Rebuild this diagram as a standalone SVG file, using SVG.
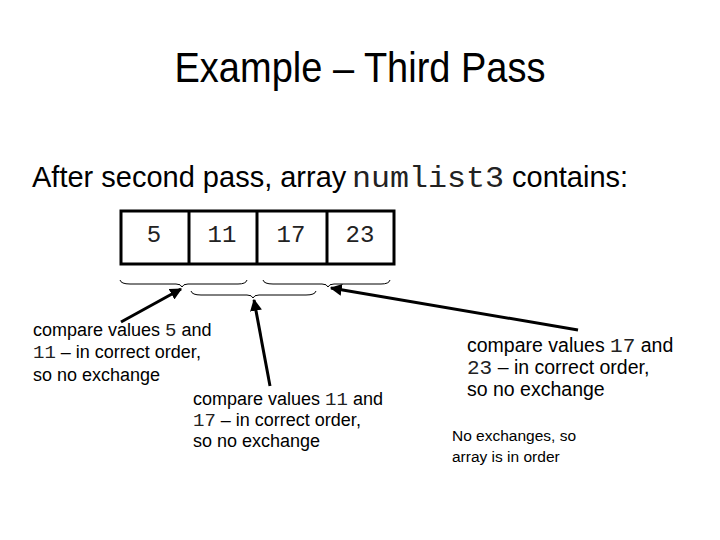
<svg xmlns="http://www.w3.org/2000/svg" width="720" height="540" viewBox="0 0 720 540">
<style>
.sans{font-family:"Liberation Sans",Arial,sans-serif;fill:#000}
.mono{font-family:"Liberation Mono","Courier New",monospace;fill:#222}
.brace{fill:none;stroke:#000;stroke-width:1}
.arr{fill:none;stroke:#000;stroke-width:3;marker-end:url(#ah)}
</style>
<defs>
<marker id="ah" viewBox="0 0 10 10" refX="9" refY="5" markerWidth="4" markerHeight="4" orient="auto" markerUnits="strokeWidth">
<path d="M0,0 L10,5 L0,10 Z" fill="#000"/>
</marker>
</defs>
<rect width="720" height="540" fill="#fff"/>
<g id="title"><text class="sans" x="360" y="82" font-size="42" text-anchor="middle" textLength="371" lengthAdjust="spacingAndGlyphs">Example – Third Pass</text></g>
<g id="subtitle"><text class="sans" x="32" y="187" font-size="29"><tspan>After second pass, array </tspan><tspan class="mono" x="352" font-size="29" textLength="152" lengthAdjust="spacingAndGlyphs">numlist3</tspan><tspan x="512">contains:</tspan></text></g>
<g id="array">
<rect x="121" y="211" width="273" height="53" fill="#fff" stroke="#000" stroke-width="3"/>
<line x1="189" y1="211" x2="189" y2="264" stroke="#000" stroke-width="3"/>
<line x1="257" y1="211" x2="257" y2="264" stroke="#000" stroke-width="3"/>
<line x1="327" y1="211" x2="327" y2="264" stroke="#000" stroke-width="3"/>
<text class="mono" font-size="24" text-anchor="middle" y="242"><tspan x="154">5</tspan><tspan x="222">11</tspan><tspan x="291">17</tspan><tspan x="360">23</tspan></text>
</g>
<g id="braces">
<path class="brace" d="M120,280 Q121,284 130,284 L176,284 Q181,284 182,287 Q183,284 188,284 L238,284 Q246,284 247,280"/>
<path class="brace" d="M191,291 Q192,295 201,295 L247,295 Q252,295 253,298 Q254,295 259,295 L306,295 Q315,295 316,291"/>
<path class="brace" d="M263,280 Q264,284 273,284 L322,284 Q327,284 328,287 Q329,284 334,284 L381,284 Q389,284 390,280"/>
</g>
<g id="connectors">
<line class="arr" x1="121" y1="322" x2="181" y2="289"/>
<line class="arr" x1="270" y1="386" x2="254" y2="300"/>
<line class="arr" x1="578" y1="330" x2="331" y2="288"/>
</g>
<g id="note1">
<text class="sans" x="33" y="336" font-size="18">compare values <tspan class="mono" font-size="19">5</tspan> and</text>
<text class="sans" x="33" y="358" font-size="18"><tspan class="mono" font-size="19">11</tspan> –  in correct order,</text>
<text class="sans" x="33" y="381" font-size="18">so no exchange</text>
</g>
<g id="note2">
<text class="sans" x="193" y="405" font-size="18">compare values <tspan class="mono" font-size="19">11</tspan> and</text>
<text class="sans" x="193" y="426" font-size="18"><tspan class="mono" font-size="19">17</tspan> – in correct order,</text>
<text class="sans" x="193" y="447" font-size="18">so no exchange</text>
</g>
<g id="note3">
<text class="sans" x="467" y="352" font-size="19.5">compare values <tspan class="mono" font-size="21">17</tspan> and</text>
<text class="sans" x="467" y="374" font-size="19.5"><tspan class="mono" font-size="21">23</tspan> – in correct order,</text>
<text class="sans" x="467" y="396" font-size="19.5">so no exchange</text>
</g>
<g id="note4">
<text class="sans" x="452" y="441" font-size="15.5">No exchanges, so</text>
<text class="sans" x="452" y="462" font-size="15.5">array is in order</text>
</g>
</svg>
